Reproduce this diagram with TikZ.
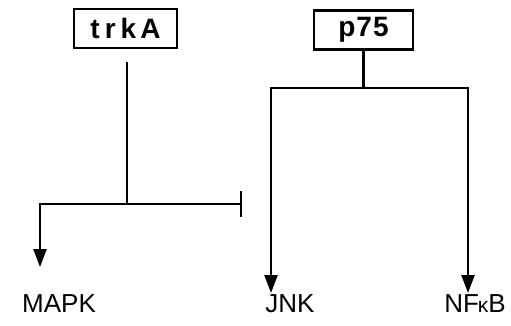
\documentclass[tikz,border=0pt]{standalone}
\usepackage{fontspec}
\setmainfont{Liberation Sans}
\usetikzlibrary{arrows.meta}
\begin{document}
\begin{tikzpicture}[x=1pt,y=-1pt,
  recbox/.style={draw, line width=2.4pt, minimum height=39pt, inner sep=0pt,
    font=\fontsize{28}{30}\selectfont\bfseries},
  link/.style={line width=2.4pt},
  act/.style={link, -{Triangle[width=13pt,length=18pt]}},
  inhib/.style={link, -{Bar[width=26pt,line width=2.4pt]}},
  label/.style={anchor=base, inner sep=0pt, font=\fontsize{26}{28}\selectfont}]
\useasboundingbox (0,0) rectangle (511,325);

% receptors
\node[recbox, minimum width=103pt] (trkA) at (125.5,28.5) {t\hspace{5pt}r\hspace{5pt}k\hspace{4pt}A};
\node[recbox, minimum width=99pt] (p75) at (363.5,30) {p\hspace{1pt}7\hspace{1pt}5};

% targets
\node[label] (mapk) at (59,312) {MAPK};
\node[label] (jnk) at (290,312) {JNK};
\node[label] (nfkb) at (475,312) {NF\kern-1pt{\fontsize{21}{22}\selectfont κ}B};

% branch points
\coordinate (tstart) at (127,62);
\coordinate (tj) at (127,204);
\coordinate (tl) at (40,204);
\coordinate (tr) at (242,204);
\coordinate (mapkin) at (40,267);
\coordinate (pj) at (p75.south |- 0,88);
\coordinate (pl) at (271,88);
\coordinate (pr) at (468,88);
\coordinate (jnkin) at (271,293);
\coordinate (nfkbin) at (468,293);

% trkA signalling
\draw[link] (tstart) -- (tj);
\draw[act] (tj) -- (tl) -- (mapkin);
\draw[inhib] (tj) -- (tr);

% p75 signalling
\draw[link] (p75.south) -- (pj);
\draw[act] (pj) -- (pl) -- (jnkin);
\draw[act] (pj) -- (pr) -- (nfkbin);
\end{tikzpicture}
\end{document}
